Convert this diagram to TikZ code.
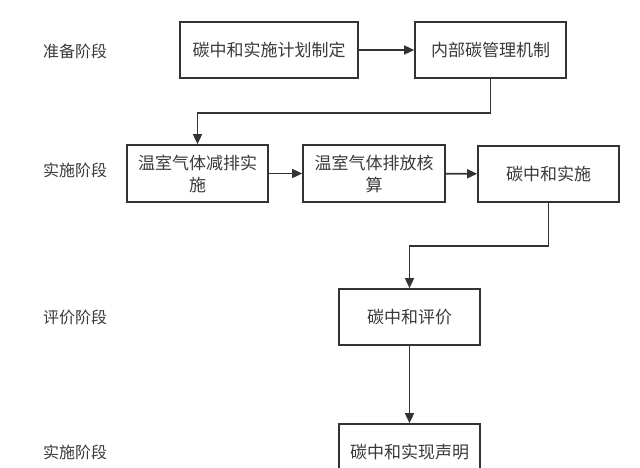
\documentclass[tikz,border=0pt]{standalone}
\usepackage{fontspec}
\newfontfamily\cjk{Noto Sans CJK SC}
\usetikzlibrary{arrows.meta}
\definecolor{ink}{HTML}{333333}
\definecolor{txt}{HTML}{3A3A3A}
\begin{document}
\begin{tikzpicture}[x=1pt,y=-1pt,
  box/.style={draw=ink,line width=1.7pt,rectangle,minimum height=56pt,inner sep=0pt,
    font=\cjk\fontsize{17}{22}\selectfont,text=txt,align=center,fill=white},
  lbl/.style={font=\cjk\fontsize{16}{20}\selectfont,text=txt,inner sep=0pt},
  arr/.style={draw=ink,line width=1.6pt,-{Triangle[length=10pt,width=9pt]}}]
\useasboundingbox (0,0) rectangle (640,467);
\clip (0,0) rectangle (640,467);
\fill[white] (0,0) rectangle (640,467);
% stage labels
\node[lbl] (l1) at (75,51) {准备阶段};
\node[lbl] (l2) at (75,170) {实施阶段};
\node[lbl] (l3) at (75,317) {评价阶段};
\node[lbl] (l4) at (75,452) {实施阶段};
% boxes
\node[box,minimum width=178pt] (b1) at (269,50) {碳中和实施计划制定};
\node[box,minimum width=151pt] (b2) at (490.5,50) {内部碳管理机制};
\node[box,minimum width=141pt,minimum height=57pt] (b3) at (197.5,173.5) {温室气体减排实\\施};
\node[box,minimum width=142pt,minimum height=57pt] (b4) at (374,173.5) {温室气体排放核\\算};
\node[box,minimum width=141pt] (b5) at (548.5,174) {碳中和实施};
\node[box,minimum width=141pt] (b6) at (409.5,317) {碳中和评价};
\node[box,minimum width=141pt] (b7) at (409.5,452) {碳中和实现声明};
% connectors
\draw[arr] (b1) -- (b2);
\draw[arr] (b2.south) -- ++(0,34) -| (b3.north);
\draw[arr] (b3) -- (b4);
\draw[arr] (b4) -- (b5);
\draw[arr] (b5.south) -- ++(0,43) -| (b6.north);
\draw[arr] (b6) -- (b7);
\end{tikzpicture}
\end{document}
